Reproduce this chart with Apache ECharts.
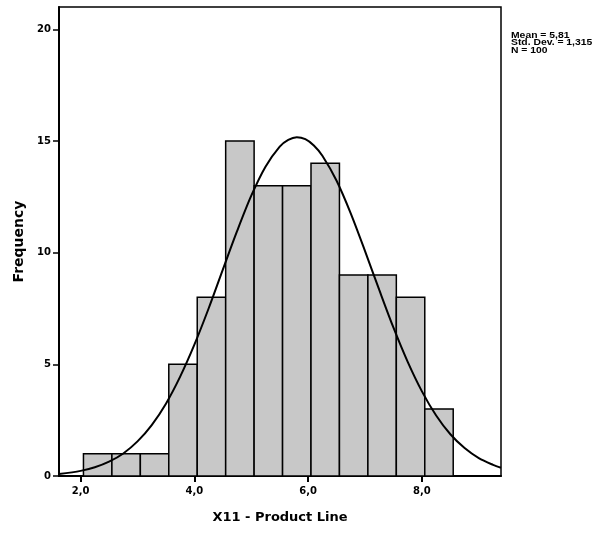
<!DOCTYPE html>
<html>
<head>
<meta charset="utf-8">
<script src="https://cdn.jsdelivr.net/npm/echarts@6/dist/echarts.min.js"></script>
<style>
  html, body { margin: 0; padding: 0; background: #fff; }
  #chart { width: 605px; height: 536px; }
</style>
</head>
<body>
<div id="chart"></div>
<script>
// histogram bins (X11 - Product Line), width 0.5
const binEdges = [2.05, 2.55, 3.05, 3.55, 4.05, 4.55, 5.05, 5.55, 6.05, 6.55, 7.05, 7.55, 8.05, 8.55]
const counts = [1, 1, 1, 5, 8, 15, 13, 13, 14, 9, 9, 8, 3]

// normal curve
const curveX = [1.62, 2.0, 2.25, 2.5, 2.75, 3.0, 3.25, 3.5, 3.75, 4.0, 4.25, 4.5, 4.75, 5.0, 5.25, 5.5, 5.65, 5.8, 5.95,
  6.1, 6.25, 6.5, 6.75, 7.0, 7.25, 7.5, 7.75, 8.0, 8.25, 8.5, 8.75, 9.0, 9.25, 9.39]
const curveY = [0.09, 0.23, 0.39, 0.64, 1.01, 1.55, 2.28, 3.24, 4.45, 5.88, 7.50, 9.24, 10.96, 12.55, 13.85, 14.75, 15.05, 15.17, 15.08,
  14.80, 14.34, 13.22, 11.75, 10.07, 8.33, 6.64, 5.11, 3.79, 2.71, 1.87, 1.25, 0.80, 0.50, 0.37]

const xTicks = [2, 4, 6, 8]
const yTicks = [0, 5, 10, 15, 20]
const stats = ['Mean = 5,81', 'Std. Dev. = 1,315', 'N = 100']

const chart = echarts.init(document.getElementById('chart'))

const option = {
  animation: false,
  backgroundColor: '#fff',
  grid: {
    left: 59, right: 104, top: 7, bottom: 60,
    show: true, borderColor: '#000', borderWidth: 1.5, backgroundColor: 'transparent'
  },
  xAxis: {
    type: 'value',
    min: 1.62,
    max: 9.39,
    name: 'X11 - Product Line',
    nameLocation: 'middle',
    nameGap: 35,
    nameTextStyle: { color: '#000', fontFamily: 'DejaVu Sans', fontWeight: 'bold', fontSize: 13 },
    splitLine: { show: false },
    axisLine: { show: true, lineStyle: { color: '#000', width: 2 } },
    axisTick: { show: true, length: 6, customValues: xTicks, lineStyle: { color: '#000', width: 2 } },
    axisLabel: {
      customValues: xTicks,
      margin: 10,
      color: '#000',
      fontFamily: 'DejaVu Sans',
      fontWeight: 'bold',
      fontSize: 10,
      formatter: v => v.toFixed(1).replace('.', ',')
    }
  },
  yAxis: {
    type: 'value',
    min: 0,
    max: 21,
    name: 'Frequency',
    nameLocation: 'middle',
    nameGap: 30,
    nameTextStyle: { color: '#000', fontFamily: 'DejaVu Sans', fontWeight: 'bold', fontSize: 14 },
    splitLine: { show: false },
    axisLine: { show: true, lineStyle: { color: '#000', width: 2 } },
    axisTick: { show: true, length: 6, customValues: yTicks, lineStyle: { color: '#000', width: 1.5 } },
    axisLabel: {
      customValues: yTicks,
      margin: 8,
      color: '#000',
      fontFamily: 'DejaVu Sans',
      fontWeight: 'bold',
      fontSize: 10
    }
  },
  series: [
    {
      type: 'custom',
      data: counts.map((c, i) => [binEdges[i], binEdges[i + 1], c]),
      encode: { x: [0, 1], y: 2 },
      renderItem: (params, api) => {
        const topLeft = api.coord([api.value(0), api.value(2)])
        const bottomRight = api.coord([api.value(1), 0])
        return {
          type: 'rect',
          shape: {
            x: topLeft[0], y: topLeft[1],
            width: bottomRight[0] - topLeft[0],
            height: bottomRight[1] - topLeft[1]
          },
          style: { fill: '#c8c8c8', stroke: '#000', lineWidth: 1.5 }
        }
      },
      z: 2
    },
    {
      type: 'line',
      data: curveX.map((x, i) => [x, curveY[i]]),
      smooth: 0.3,
      symbol: 'none',
      lineStyle: { color: '#000', width: 2 },
      z: 3
    }
  ],
  graphic: stats.map((t, i) => ({
    type: 'text',
    x: 511,
    y: 31 + i * 7.5,
    scaleX: 1.15,
    style: { text: t, fill: '#000', font: 'bold 9px "Liberation Sans", Arial', verticalAlign: 'top' }
  }))
}

chart.setOption(option)
</script>
</body>
</html>
